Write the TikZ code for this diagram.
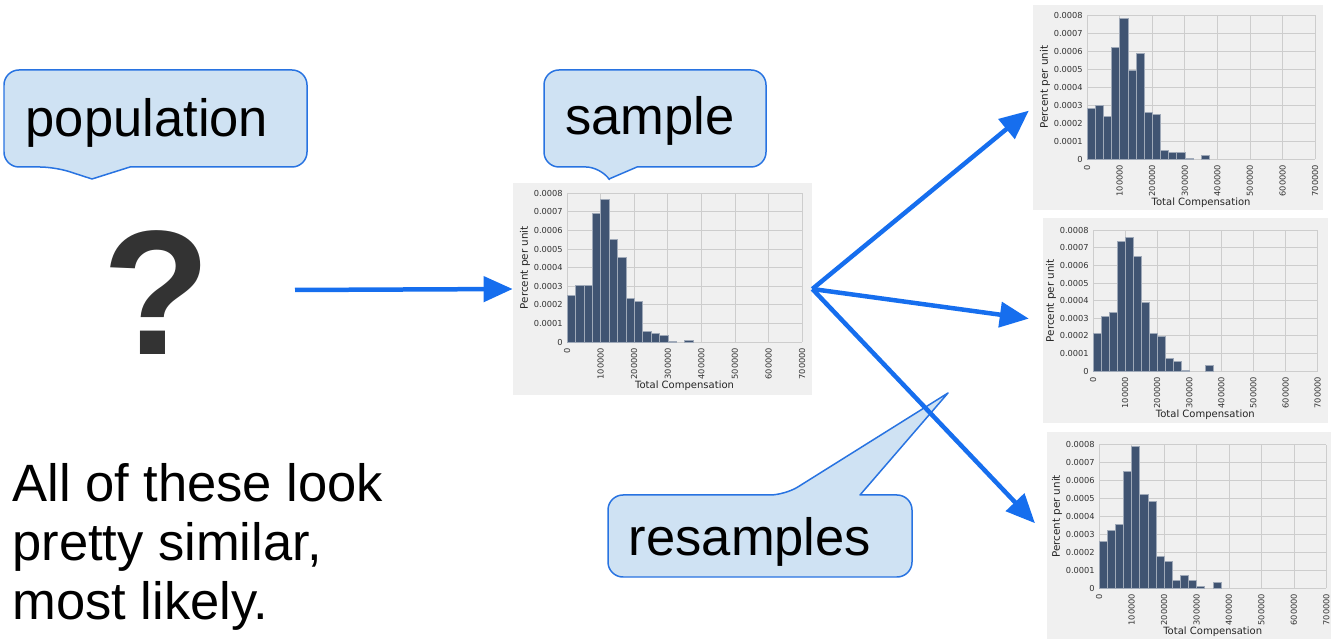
\documentclass[tikz,border=0pt]{standalone}
\usepackage{fontspec}
\setmainfont{Liberation Sans}
\newfontfamily\plotfont{DejaVu Sans}
\usetikzlibrary{arrows.meta,fit}

\definecolor{arrowblue}{RGB}{22,110,238}
\definecolor{calloutfill}{RGB}{207,226,243}
\definecolor{calloutline}{RGB}{40,115,225}
\definecolor{panelgray}{RGB}{240,240,240}
\definecolor{gridgray}{RGB}{205,205,205}
\definecolor{barblue}{RGB}{64,84,114}
\definecolor{qgray}{RGB}{51,51,51}

% #1 name, #2 #3 corners, #4 origin, #5 100000 step, #6 0.0001 step, #7 bars
\newcommand{\histo}[7]{%
\node[panel,fit={#2 #3}] (#1) {};
\begin{scope}[shift={#4},x=#5,y=#6]
\foreach \i in {0,...,7}
\draw[gridline] (\i,0) -- (\i,8);
\foreach \j in {0,...,8}
\draw[gridline] (0,\j) -- (7,\j);
\foreach \h [count=\k from 0] in {#7}{
\ifdim\h pt>0pt \draw[bar] (\k/4,0) rectangle ({(\k+1)/4},\h); \fi
}
\node[ytick] (#1-y0) at (0,0) {0};
\foreach \j in {1,...,8}
\node[ytick] (#1-y\j) at (0,\j) {0.000\j};
\node[xtick] (#1-x0) at (0,0) {0};
\foreach \i in {1,...,7}
\node[xtick] (#1-x\i) at (\i,0) {\i00000};
\node[ylab] (#1-yl) at (0,4) {Percent per unit};
\node[xlab] (#1-xl) at (3.5,0) {Total Compensation};
\end{scope}}

\begin{document}
\begin{tikzpicture}
[x=0.02cm,y=-0.02cm,
callout/.style={fill=calloutfill,draw=calloutline,line width=0.03cm,line join=round},
bigtext/.style={font=\fontsize{29.9}{33.6}\selectfont,inner sep=0},
link/.style={draw=arrowblue,line width=0.09cm,-{Triangle[length=0.58cm,width=0.5cm]}},
panel/.style={fill=panelgray,inner sep=0},
gridline/.style={gridgray,line width=0.4pt},
bar/.style={fill=barblue,draw=barblue!50!white,line width=0.25pt},
ytick/.style={anchor=east,inner ysep=0,inner xsep=0.08cm,text=black!80,font=\plotfont\fontsize{4.7}{5}\selectfont},
xtick/.style={rotate=90,anchor=east,inner ysep=0,inner xsep=0.11cm,text=black!80,font=\plotfont\fontsize{4.7}{5}\selectfont},
ylab/.style={xshift=-0.84cm,rotate=90,inner sep=0,text=black!85,font=\plotfont\fontsize{5.9}{6}\selectfont},
xlab/.style={yshift=-0.88cm,inner sep=0,text=black!85,font=\plotfont\fontsize{5.7}{6}\selectfont}]
\useasboundingbox (0,0) rectangle (1332,641);

% histograms
\histo{smp}{(513,183)}{(812,395)}{(567,342)}{0.672cm}{0.372cm}
{2.5,3.06,3.06,6.9,7.7,5.5,4.55,2.35,2.2,0.6,0.45,0.35,0.05,0,0.1}
\histo{rs1}{(1033,5)}{(1323,210)}{(1087,159)}{0.652cm}{0.36cm}
{2.8,3.0,2.35,6.2,7.8,4.95,5.85,2.6,2.5,0.5,0.35,0.35,0.05,0,0.2}
\histo{rs2}{(1043,218)}{(1328,423)}{(1093,371)}{0.642cm}{0.352cm}
{2.15,3.1,3.35,7.4,7.6,6.5,3.9,2.15,2.0,0.7,0.55,0.05,0,0,0.3}
\histo{rs3}{(1047,432)}{(1331,639)}{(1099,588)}{0.65cm}{0.358cm}
{2.6,3.25,3.55,6.5,7.9,5.25,4.85,1.8,1.5,0.45,0.7,0.45,0.1,0,0.3}

% callouts
\draw[callout] (130,167) [rounded corners=0.3cm] -- (307,167) -- (307,70) -- (4,70) -- (4,167) -- (55,167) [sharp corners] -- (92,179) -- cycle;
\draw[callout] (637,167) [rounded corners=0.3cm] -- (766,167) -- (766,70) -- (544,70) -- (544,167) -- (601,167) [sharp corners] -- (609,179) -- cycle;
\draw[callout] (860,495) [rounded corners=0.3cm] -- (912,495) -- (912,577) -- (608,577) -- (608,495) -- (785,495) [sharp corners] -- (948,393) -- cycle;

\node[bigtext,anchor=base] (pop) at (147,137) {population};
\node[bigtext,anchor=base] (smpl) at (650,135) {sample};
\node[bigtext,anchor=base] (rsl) at (750,556) {resamples};

\node[font=\fontsize{101}{101}\selectfont\bfseries,text=qgray,inner sep=0,anchor=base] (q) at (157,355) {?};
\node[bigtext,anchor=north west,align=left] (txt) at (12,463) {All of these look\\pretty similar,\\most likely.};

% arrows
\coordinate (src) at (295,290);
\draw[link] (src) -- (smp.west);
\draw[link,shorten >=0.1cm] (smp.east) -- (rs1.west);
\draw[link,shorten >=0.28cm] (smp.east) -- (rs2.west);
\draw[link,shorten >=0.34cm] (smp.east) -- (rs3.west);
\end{tikzpicture}
\end{document}
